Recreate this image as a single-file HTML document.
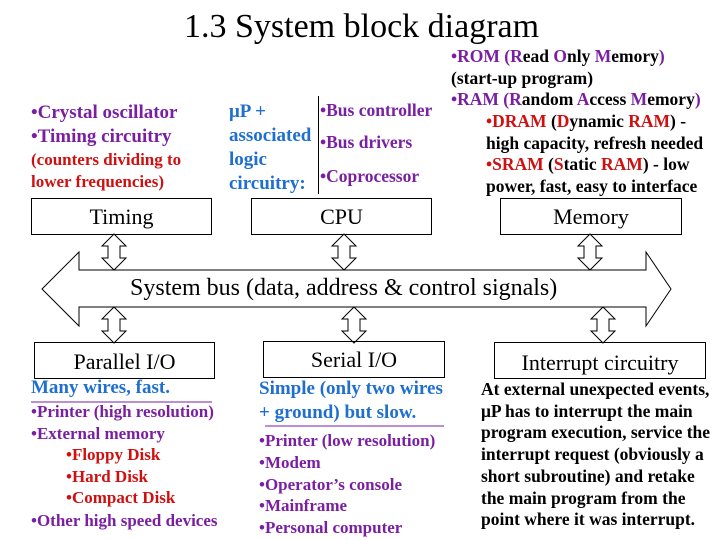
<!DOCTYPE html>
<html><head><meta charset="utf-8"><style>
body{margin:0;width:720px;height:540px;background:#fff;position:relative;overflow:hidden;font-family:"Liberation Serif",serif;font-weight:bold}
.t{position:absolute;white-space:nowrap}
.box{position:absolute;border:1.5px solid #000;box-sizing:border-box;text-align:center;font-weight:normal;font-size:22px}
.p{color:#7a1fa2}.r{color:#d01010}.b{color:#1f6fd0}.k{color:#000}
</style></head><body>
<div class="t" style="left:184px;top:8px;font-size:34px;font-weight:normal">1.3 System block diagram</div>

<div class="t p" style="left:31px;top:101px;font-size:19px;line-height:24px">•Crystal oscillator<br>•Timing circuitry</div>
<div class="t r" style="left:31px;top:149px;font-size:17px;line-height:22px">(counters dividing to<br>lower frequencies)</div>

<div class="t b" style="left:229px;top:100px;font-size:19px;line-height:24px">μP +<br>associated<br>logic<br>circuitry:</div>
<div style="position:absolute;left:318px;top:96px;width:1px;height:98px;background:#000"></div>
<div class="t p" style="left:320px;top:100px;font-size:17.5px">•Bus controller</div>
<div class="t p" style="left:320px;top:132px;font-size:17.5px">•Bus drivers</div>
<div class="t p" style="left:320px;top:166px;font-size:17.5px">•Coprocessor</div>

<div class="t" style="left:451px;top:46px;font-size:17.5px;line-height:21.5px"><span class="p">•ROM (R</span>ead <span class="p">O</span>nly <span class="p">M</span>emory<span class="p">)</span><br>(start-up program)<br><span class="p">•RAM (R</span>andom <span class="p">A</span>ccess <span class="p">M</span>emory<span class="p">)</span></div>
<div class="t" style="left:486px;top:111px;font-size:17.5px;line-height:21.5px"><span class="r">•DRAM</span> (<span class="r">D</span>ynamic <span class="r">RAM</span>) -<br>high capacity, refresh needed<br><span class="r">•SRAM</span> (<span class="r">S</span>tatic <span class="r">RAM</span>) - low<br>power, fast, easy to interface</div>

<div class="box" style="left:31px;top:198px;width:181px;height:37px;line-height:35px">Timing</div>
<div class="box" style="left:251px;top:198px;width:181px;height:37px;line-height:35px">CPU</div>
<div class="box" style="left:500px;top:198px;width:182px;height:37px;line-height:35px">Memory</div>

<svg style="position:absolute;left:0;top:0" width="720" height="540" fill="#fff" stroke="#000" stroke-width="1">
<defs><g id="a"><polygon points="0,0 12,12 6,12 6,24 12,24 0,36 -12,24 -6,24 -6,12 -12,12"/></g></defs>
<polygon points="42,289 79,252 79,270 646,270 646,252 671,289 646,326 646,307 79,307 79,326"/>
<use href="#a" x="114" y="234"/><use href="#a" x="344" y="234"/><use href="#a" x="590" y="234"/>
<use href="#a" x="114" y="307"/><use href="#a" x="354" y="307"/><use href="#a" x="603" y="307"/>
<line x1="31" y1="402" x2="212" y2="402" stroke="#7a1fa2"/>
<line x1="265" y1="426" x2="444" y2="426" stroke="#7a1fa2"/>
</svg>
<div class="t" style="left:130px;top:275px;font-size:24px;font-weight:normal">System bus (data, address &amp; control signals)</div>

<div class="box" style="left:34px;top:342px;width:181px;height:37px;line-height:37px">Parallel I/O</div>
<div class="box" style="left:263px;top:341px;width:182px;height:37px;line-height:35px">Serial I/O</div>
<div class="box" style="left:494px;top:342px;width:212px;height:37px;line-height:39px">Interrupt circuitry</div>

<div class="t b" style="left:31px;top:377px;font-size:19px">Many wires, fast.</div>
<div class="t p" style="left:31px;top:401px;font-size:17px;line-height:22px">•Printer (high resolution)<br>•External memory</div>
<div class="t r" style="left:66px;top:444px;font-size:17px;line-height:21.5px">•Floppy Disk<br>•Hard Disk<br>•Compact Disk</div>
<div class="t p" style="left:31px;top:511px;font-size:17px">•Other high speed devices</div>

<div class="t b" style="left:259px;top:377px;font-size:19px;line-height:24px">Simple (only two wires<br>+ ground) but slow.</div>
<div class="t p" style="left:259px;top:430px;font-size:17px;line-height:21.8px">•Printer (low resolution)<br>•Modem<br>•Operator’s console<br>•Mainframe<br>•Personal computer</div>

<div class="t k" style="left:481px;top:379px;font-size:17.5px;line-height:21.7px">At external unexpected events,<br>μP has to interrupt the main<br>program execution, service the<br>interrupt request (obviously a<br>short subroutine) and retake<br>the main program from the<br>point where it was interrupt.</div>
</body></html>
